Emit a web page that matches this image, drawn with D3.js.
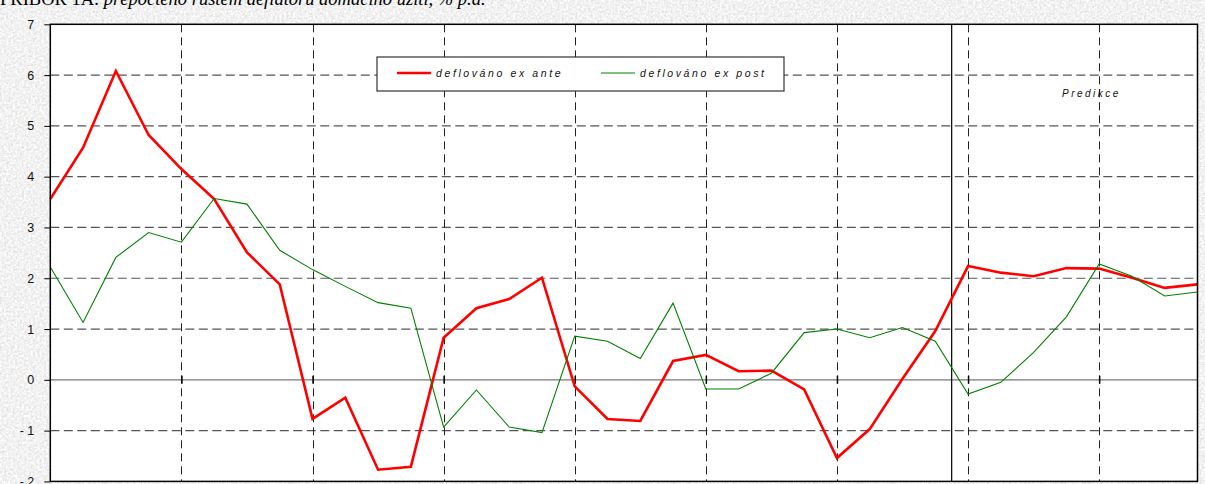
<!DOCTYPE html>
<html>
<head>
<meta charset="utf-8">
<script src="https://cdn.jsdelivr.net/npm/d3@7"></script>
<style>
  body { margin: 0; padding: 0; background: #e6e6e6; }
  #graphic { width: 1205px; height: 484px; overflow: hidden; }
</style>
</head>
<body>
<div id="graphic"></div>
<script>
(function() {

// quarterly observations, index 0..35
var quarters = d3.range(0, 36);
var exAnte = [3.56, 4.57, 6.08, 4.82, 4.15, 3.56, 2.51, 1.88, -0.77, -0.35,
              -1.77, -1.71, 0.83, 1.41, 1.59, 2.01, -0.13, -0.77, -0.81, 0.37,
              0.49, 0.17, 0.18, -0.19, -1.54, -0.97, 0.02, 0.96, 2.24, 2.11,
              2.04, 2.20, 2.19, 2.01, 1.81, 1.88];
var exPost = [2.22, 1.13, 2.41, 2.90, 2.71, 3.57, 3.46, 2.55, 2.17, 1.84,
              1.52, 1.41, -0.93, -0.20, -0.93, -1.04, 0.86, 0.76, 0.42, 1.51,
              -0.18, -0.18, 0.13, 0.93, 1.00, 0.83, 1.03, 0.76, -0.28, -0.05,
              0.54, 1.24, 2.28, 2.04, 1.65, 1.73];
var yTicks = [-2, -1, 0, 1, 2, 3, 4, 5, 6, 7];
var yearTicks = [4, 8, 12, 16, 20, 24, 28, 32];
var forecastStart = 27.5;
var seriesNames = ['deflováno ex ante', 'deflováno ex post'];

var W = 1205, H = 484;
var margin = {top: 24.3, right: 7.5, bottom: 2.3, left: 50.3};

var svg = d3.select('#graphic').append('svg')
    .attr('width', W)
    .attr('height', H);

// paper texture behind the plot
var defs = svg.append('defs');
var filt = defs.append('filter').attr('id', 'paper')
    .attr('filterUnits', 'userSpaceOnUse')
    .attr('x', 0).attr('y', 0).attr('width', W).attr('height', H);
filt.append('feTurbulence')
    .attr('type', 'fractalNoise')
    .attr('baseFrequency', 0.45)
    .attr('numOctaves', 3)
    .attr('seed', 4);
filt.append('feColorMatrix')
    .attr('type', 'matrix')
    .attr('values', '0.45 0 0 0 0.66  0.45 0 0 0 0.66  0.45 0 0 0 0.66  0 0 0 0 1');

svg.append('rect')
    .attr('width', W).attr('height', H)
    .attr('fill', '#e6e6e6')
    .attr('filter', 'url(#paper)');

// title (cut off at top in the original)
var title = svg.append('text')
    .attr('x', 0)
    .attr('y', 5)
    .style('font-family', '"Liberation Serif", "Times New Roman", serif')
    .style('font-size', '18.5px')
    .attr('fill', '#000');
title.append('tspan').text('PŘÍBOR 1A: ');
title.append('tspan').style('font-style', 'italic')
    .text('přepočteno růstem deflátoru domácího užití, % p.a.');

var x = d3.scaleLinear().domain([0, 35]).range([margin.left, W - margin.right]);
var y = d3.scaleLinear().domain([-2, 7]).range([H - margin.bottom - 0.3, margin.top]);

// plot area
svg.append('rect')
    .attr('x', x(0)).attr('y', y(7))
    .attr('width', x(35) - x(0)).attr('height', y(-2) - y(7))
    .attr('fill', '#fff');

// horizontal grid
svg.append('g').selectAll('line')
    .data(yTicks.filter(function(d) { return d != 0 && d != 7 && d != -2; }))
    .enter().append('line')
    .attr('x1', x(0)).attr('x2', x(35))
    .attr('y1', function(d) { return y(d); })
    .attr('y2', function(d) { return y(d); })
    .attr('stroke', '#555')
    .attr('stroke-width', 1.2)
    .attr('stroke-dasharray', '9,4.5');

// vertical grid (years)
svg.append('g').selectAll('line')
    .data(yearTicks)
    .enter().append('line')
    .attr('x1', function(d) { return Math.round(x(d)) + 0.5; })
    .attr('x2', function(d) { return Math.round(x(d)) + 0.5; })
    .attr('y1', y(7)).attr('y2', y(-2))
    .attr('stroke', '#222')
    .attr('stroke-width', 1)
    .attr('stroke-dasharray', '8,5');

// zero line
svg.append('line')
    .attr('x1', x(0)).attr('x2', x(35))
    .attr('y1', y(0)).attr('y2', y(0))
    .attr('stroke', '#777')
    .attr('stroke-width', 1.3);

// category ticks crossing the zero line
svg.append('g')
    .attr('transform', 'translate(0,' + (y(0) - 4) + ')')
    .call(d3.axisBottom(x).tickValues(yearTicks).tickSize(8).tickFormat(''))
    .call(function(g) { g.select('.domain').remove(); })
    .selectAll('line').attr('stroke', '#000').attr('stroke-width', 1.5);

// forecast separator
svg.append('line')
    .attr('x1', x(forecastStart)).attr('x2', x(forecastStart))
    .attr('y1', y(7)).attr('y2', y(-2))
    .attr('stroke', '#000')
    .attr('stroke-width', 1.2);

// y axis
var yAxis = svg.append('g')
    .attr('transform', 'translate(' + x(0) + ',0)')
    .call(d3.axisLeft(y).tickValues(yTicks).tickSize(6).tickPadding(10)
      .tickFormat(function(d) { return d < 0 ? '- ' + Math.abs(d) : d; }));
yAxis.select('.domain').remove();
yAxis.selectAll('line').attr('stroke', '#000');
yAxis.selectAll('text')
    .style('font-family', '"Liberation Sans", Arial, sans-serif')
    .style('font-size', '12.5px')
    .attr('fill', '#111');

// lines
var line = d3.line()
    .x(function(d, i) { return x(quarters[i]); })
    .y(function(d) { return y(d); });

svg.append('path')
    .datum(exAnte)
    .attr('fill', 'none')
    .attr('stroke', '#ff0000')
    .attr('stroke-width', 2.6)
    .attr('d', line);

svg.append('path')
    .datum(exPost)
    .attr('fill', 'none')
    .attr('stroke', '#008000')
    .attr('stroke-width', 1.1)
    .attr('d', line);

// plot border
svg.append('rect')
    .attr('x', x(0)).attr('y', y(7))
    .attr('width', x(35) - x(0)).attr('height', y(-2) - y(7))
    .attr('fill', 'none')
    .attr('stroke', '#000')
    .attr('stroke-width', 1.5);

// legend
var lg = svg.append('g').attr('transform', 'translate(377,57)');
lg.append('rect')
    .attr('width', 407).attr('height', 34)
    .attr('fill', '#fff')
    .attr('stroke', '#333')
    .attr('stroke-width', 1.2);
var items = [{name: seriesNames[0], color: '#ff0000', w: 2.6, x0: 20},
             {name: seriesNames[1], color: '#008000', w: 1.1, x0: 224}];
items.forEach(function(it) {
  lg.append('line')
      .attr('x1', it.x0).attr('x2', it.x0 + 34)
      .attr('y1', 16).attr('y2', 16)
      .attr('stroke', it.color)
      .attr('stroke-width', it.w);
  lg.append('text')
      .attr('x', it.x0 + 39)
      .attr('y', 20)
      .style('font-family', '"Liberation Sans", Arial, sans-serif')
      .style('font-size', '10.5px')
      .style('font-style', 'italic')
      .style('letter-spacing', '2.6px')
      .attr('fill', '#111')
      .text(it.name);
});

// forecast label
svg.append('text')
    .attr('x', 1062)
    .attr('y', 97)
    .style('font-family', '"Liberation Sans", Arial, sans-serif')
    .style('font-size', '10px')
    .style('font-style', 'italic')
    .style('letter-spacing', '2.5px')
    .attr('fill', '#111')
    .text('Predikce');

})();
</script>
</body>
</html>
